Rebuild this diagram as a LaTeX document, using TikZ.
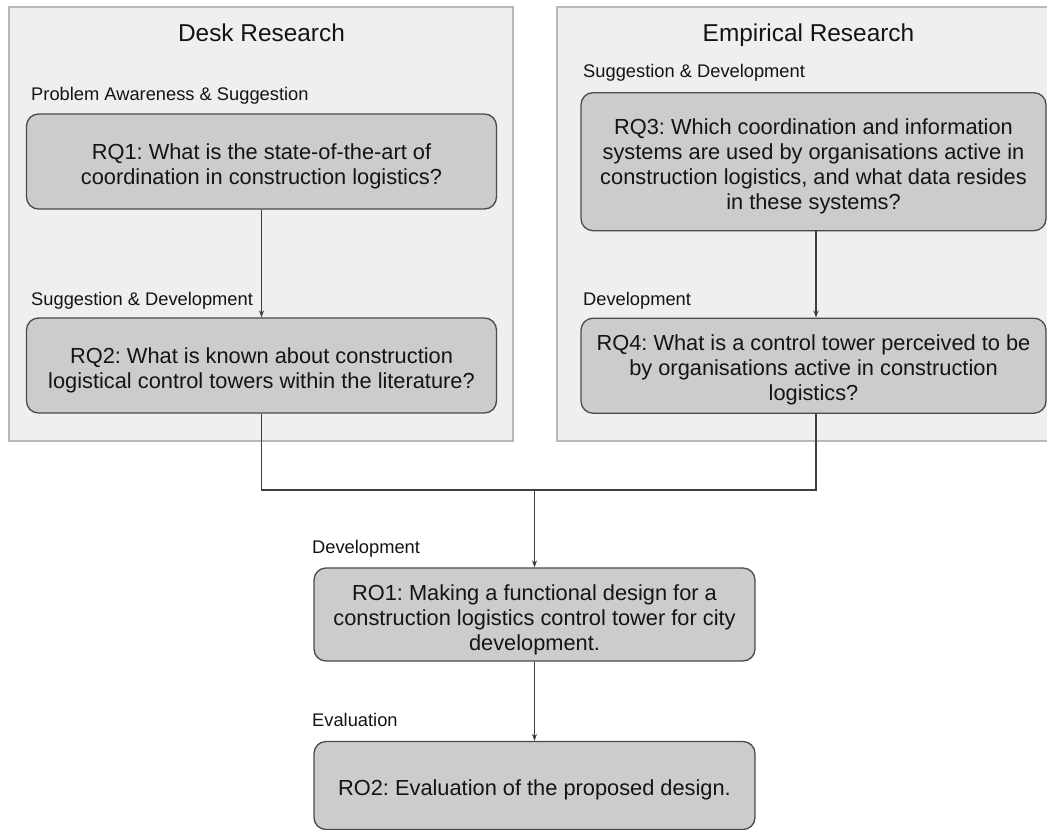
\documentclass[tikz,border=0pt]{standalone}
\usepackage{fontspec}
\setmainfont{Liberation Sans}
\usetikzlibrary{arrows.meta}
\frenchspacing
\definecolor{panelfill}{HTML}{EFEFEF}
\definecolor{panelline}{HTML}{B7B7B7}
\definecolor{boxfill}{HTML}{CCCCCC}
\definecolor{boxline}{HTML}{4A4A4A}
\definecolor{linkcol}{HTML}{3F3F3F}
\definecolor{textcol}{HTML}{141414}

\begin{document}
\begin{tikzpicture}[x=1pt,y=-1pt,
  panel/.style={fill=panelfill,draw=panelline,line width=1.2pt},
  title/.style={font=\fontsize{24.4}{28}\selectfont,inner sep=0pt,anchor=base,text=textcol},
  phase/.style={font=\fontsize{18.3}{21}\selectfont,inner sep=0pt,anchor=base west,text=textcol},
  qbox/.style={draw=boxline,fill=boxfill,line width=1.3pt,rounded corners=12pt,inner sep=0pt},
  qtext/.style={align=center,font=\fontsize{21.8}{25}\selectfont,text=textcol,inner sep=0pt},
  link/.style={draw=linkcol,line width=1.3pt},
  arrowlink/.style={link,-{Stealth[length=7pt,width=5pt]}}]

\useasboundingbox (0,0) rectangle (1047,830);
\clip (0,0) rectangle (1047,830);

% research panels
\draw[panel] (9,7) rectangle (513,441);
\draw[panel] (557,7) rectangle (1056,441);
\node[title] (desk) at (261.5,41) {Desk Research};
\node[title] (emp) at (808.5,41) {Empirical Research};

% desk research questions
\node[phase] (ph1) at (31,100) {Problem Awareness \& Suggestion};
\node[qbox,minimum width=470pt,minimum height=95pt] (rq1) at (261.5,161.5) {};
\node[qtext] (rq1t) at ([yshift=-4.5pt]rq1.center)
  {RQ1: What is the state-of-the-art of\\coordination in construction logistics?};
\node[phase] (ph2) at (31,305) {Suggestion \& Development};
\node[qbox,minimum width=470pt,minimum height=95pt] (rq2) at (261.5,365.5) {};
\node[qtext] (rq2t) at ([yshift=-4.5pt]rq2.center)
  {RQ2: What is known about construction\\logistical control towers within the literature?};

% empirical research questions
\node[phase] (ph3) at (583,77.7) {Suggestion \& Development};
\node[qbox,minimum width=465pt,minimum height=138pt] (rq3) at (813.5,161.7) {};
\node[qtext] (rq3t) at ([yshift=-4.5pt]rq3.center)
  {RQ3: Which coordination and information\\systems are used by organisations active in\\construction logistics, and what data resides\\in these systems?};
\node[phase] (ph4) at (583,305) {Development};
\node[qbox,minimum width=465pt,minimum height=95pt] (rq4) at (813.5,365.7) {};
\node[qtext] (rq4t) at ([yshift=-4.5pt]rq4.center)
  {RQ4: What is a control tower perceived to be\\by organisations active in construction\\logistics?};

% research objectives
\node[phase] (ph5) at (312,553) {Development};
\node[qbox,minimum width=441pt,minimum height=93pt] (ro1) at (534.5,614.5) {};
\node[qtext] (ro1t) at ([yshift=-5pt]ro1.center)
  {RO1: Making a functional design for a\\construction logistics control tower for city\\development.};
\node[phase] (ph6) at (312,726) {Evaluation};
\node[qbox,minimum width=441pt,minimum height=88pt] (ro2) at (534.5,785.5) {};
\node[qtext] (ro2t) at ([yshift=-4pt]ro2.center)
  {RO2: Evaluation of the proposed design.};

% connectors
\coordinate (join) at (534.5,490);
\coordinate (rq3out) at ([xshift=2.5pt]rq3.south);
\coordinate (rq4in) at ([xshift=2.5pt]rq4.north);
\coordinate (rq4out) at ([xshift=2.5pt]rq4.south);
\draw[arrowlink] (rq1.south) -- (rq2.north);
\draw[arrowlink] (rq3out) -- (rq4in);
\draw[link] (rq2.south) |- (join) -| (rq4out);
\draw[arrowlink] (join) -- (ro1.north);
\draw[arrowlink] (ro1.south) -- (ro2.north);
\end{tikzpicture}
\end{document}
